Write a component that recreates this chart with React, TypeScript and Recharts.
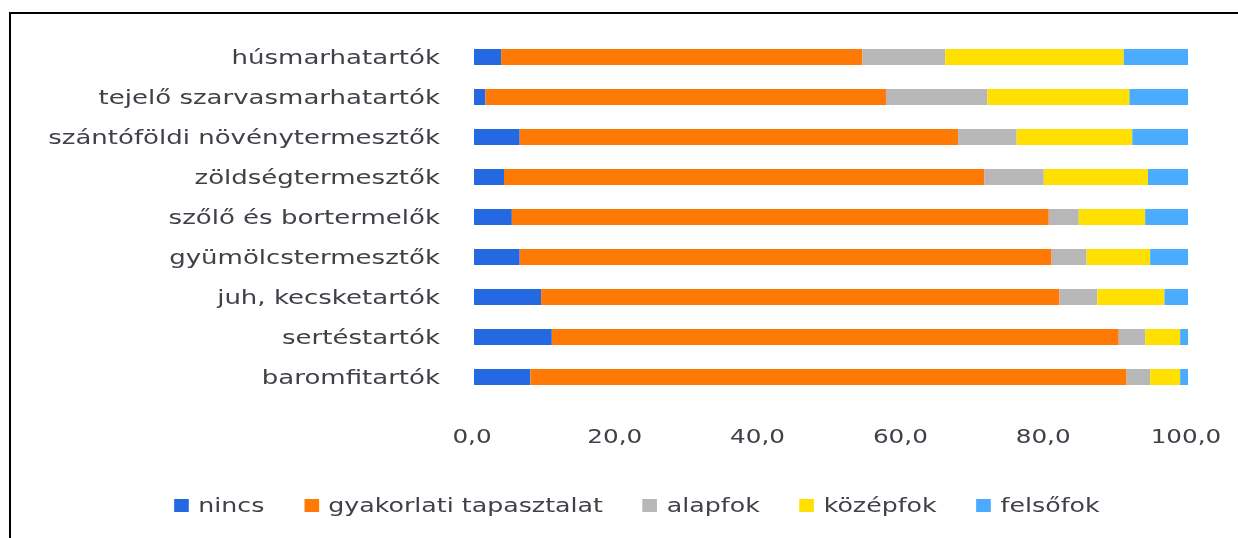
import React from 'react';
import { BarChart, Bar, XAxis, YAxis, Legend } from 'recharts';

const categories = [
  'húsmarhatartók',
  'tejelő szarvasmarhatartók',
  'szántóföldi növénytermesztők',
  'zöldségtermesztők',
  'szőlő és bortermelők',
  'gyümölcstermesztők',
  'juh, kecsketartók',
  'sertéstartók',
  'baromfitartók',
];
const nincs = [3.8, 1.6, 6.4, 4.2, 5.3, 6.4, 9.4, 10.9, 7.9];
const gyakorlati = [50.6, 56.1, 61.4, 67.3, 75.2, 74.5, 72.6, 79.4, 83.5];
const alapfok = [11.6, 14.2, 8.2, 8.3, 4.2, 4.9, 5.3, 3.7, 3.3];
const kozepfok = [25.0, 19.9, 16.2, 14.6, 9.3, 8.9, 9.4, 4.9, 4.2];
const felsofok = [9.0, 8.2, 7.8, 5.6, 6.0, 5.3, 3.3, 1.1, 1.1];
const xTicks = [0, 20, 40, 60, 80, 100];

const series = [
  { key: 'nincs', name: 'nincs', color: '#2469E2', values: nincs },
  { key: 'gyakorlati', name: 'gyakorlati tapasztalat', color: '#FF7A05', values: gyakorlati },
  { key: 'alapfok', name: 'alapfok', color: '#B7B7B7', values: alapfok },
  { key: 'kozepfok', name: 'középfok', color: '#FFE000', values: kozepfok },
  { key: 'felsofok', name: 'felsőfok', color: '#4AABFF', values: felsofok },
];

const data = categories.map((name, i) => {
  const row: Record<string, any> = { name };
  series.forEach((s) => {
    row[s.key] = s.values[i];
  });
  return row;
});

const FONT = '"DejaVu Sans", Verdana, sans-serif';
const TEXT = '#404048';

const YTick = (props: any) => {
  const { x, y, payload } = props;
  return (
    <g transform={`translate(${x - 26},${y})`}>
      <text
        transform="scale(1.37,1)"
        textAnchor="end"
        dy={7}
        fontSize={19}
        fontFamily={FONT}
        fill={TEXT}
      >
        {payload.value}
      </text>
    </g>
  );
};

const XTick = (props: any) => {
  const { x, y, payload } = props;
  const label = Number(payload.value).toFixed(1).replace('.', ',');
  return (
    <g transform={`translate(${x - 2},${y})`}>
      <text
        transform="scale(1.3,1)"
        textAnchor="middle"
        dy={38}
        fontSize={19}
        fontFamily={FONT}
        fill={TEXT}
      >
        {label}
      </text>
    </g>
  );
};

const LegendContent = () => (
  <div
    style={{
      display: 'flex',
      justifyContent: 'center',
      alignItems: 'center',
      height: 20,
      transform: 'scaleX(1.33)',
      transformOrigin: 'center',
      fontFamily: FONT,
      fontSize: 19,
      color: TEXT,
      whiteSpace: 'nowrap',
    }}
  >
    {series.map((s, i) => (
      <div
        key={s.key}
        style={{
          display: 'flex',
          alignItems: 'center',
          marginRight: i < series.length - 1 ? 30 : 0,
        }}
      >
        <span
          style={{
            display: 'inline-block',
            width: 11,
            height: 13,
            background: s.color,
            marginRight: 7,
          }}
        />
        <span style={{ lineHeight: '20px' }}>{s.name}</span>
      </div>
    ))}
  </div>
);

export default function App() {
  return (
    <div
      style={{
        position: 'relative',
        width: 1222,
        height: 522,
        background: '#fff',
        overflow: 'hidden',
      }}
    >
      <div
        style={{
          position: 'fixed',
          left: 9,
          top: 12,
          width: 1229,
          height: 526,
          borderLeft: '2px solid #000',
          borderTop: '2px solid #000',
          boxSizing: 'border-box',
          pointerEvents: 'none',
        }}
      />
      <div style={{ position: 'absolute', left: 0, top: 0 }}>
        <BarChart
          width={1222}
          height={522}
          data={data}
          layout="vertical"
          margin={{ top: 29, right: 42, bottom: 83, left: 0 }}
          barSize={16}
        >
          <XAxis
            type="number"
            domain={[0, 100]}
            ticks={xTicks}
            axisLine={false}
            tickLine={false}
            tick={<XTick />}
            height={30}
            interval={0}
          />
          <YAxis
            type="category"
            dataKey="name"
            width={466}
            axisLine={false}
            tickLine={false}
            tick={<YTick />}
            interval={0}
          />
          <Legend
            verticalAlign="bottom"
            height={20}
            content={<LegendContent />}
            wrapperStyle={{ top: 487, bottom: 'auto', left: 39, width: 1180, height: 20 }}
          />
          {series.map((s) => (
            <Bar
              key={s.key}
              dataKey={s.key}
              name={s.name}
              stackId="a"
              fill={s.color}
              isAnimationActive={false}
            />
          ))}
        </BarChart>
      </div>
    </div>
  );
}
